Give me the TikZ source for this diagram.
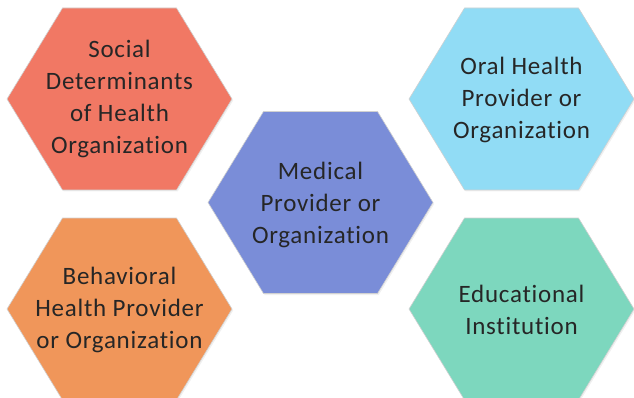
\documentclass[tikz,border=0pt]{standalone}
\usepackage{fontspec}
\setmainfont{Carlito}[Ligatures=NoCommon, LetterSpace=3]
\usetikzlibrary{shadows,calc}
\definecolor{cSocial}{RGB}{241,120,100}
\definecolor{cMedical}{RGB}{122,141,216}
\definecolor{cOral}{RGB}{145,220,245}
\definecolor{cBehav}{RGB}{240,150,90}
\definecolor{cEdu}{RGB}{125,215,190}
\definecolor{cText}{RGB}{38,38,38}
\tikzset{
  hexfill/.style={draw=black!18, line width=0.6pt,
    drop shadow={opacity=0.12, shadow xshift=1.2pt, shadow yshift=-1.5pt}},
  hextext/.style={align=center, text=cText,
    font=\fontsize{25}{32}\selectfont, inner sep=0pt}
}
\newcommand{\hexat}[2]{%
  \path[hexfill, fill=#2] ($(#1)+(-112.5,0)$) -- ($(#1)+(-57,-91)$) -- ($(#1)+(57,-91)$)
    -- ($(#1)+(112.5,0)$) -- ($(#1)+(57,91)$) -- ($(#1)+(-57,91)$) -- cycle;}
\begin{document}
\begin{tikzpicture}[x=1pt,y=-1pt]
\useasboundingbox (0,0) rectangle (634,398);
\coordinate (cS) at (119.5,99);
\coordinate (cO) at (521.5,99);
\coordinate (cM) at (320.5,202.5);
\coordinate (cB) at (119.5,309);
\coordinate (cE) at (521.5,309);
\hexat{cS}{cSocial}
\hexat{cO}{cOral}
\hexat{cB}{cBehav}
\hexat{cE}{cEdu}
\hexat{cM}{cMedical}
\node[hextext] (social) at (119.5,99) {Social\\Determinants\\of Health\\Organization};
\node[hextext] (oral) at (521.5,100) {Oral Health\\Provider or\\Organization};
\node[hextext] (medical) at (320.5,205) {Medical\\Provider or\\Organization};
\node[hextext] (behav) at (119.5,310) {Behavioral\\Health Provider\\or Organization};
\node[hextext] (edu) at (521.5,310) {Educational\\Institution};
\end{tikzpicture}
\end{document}
